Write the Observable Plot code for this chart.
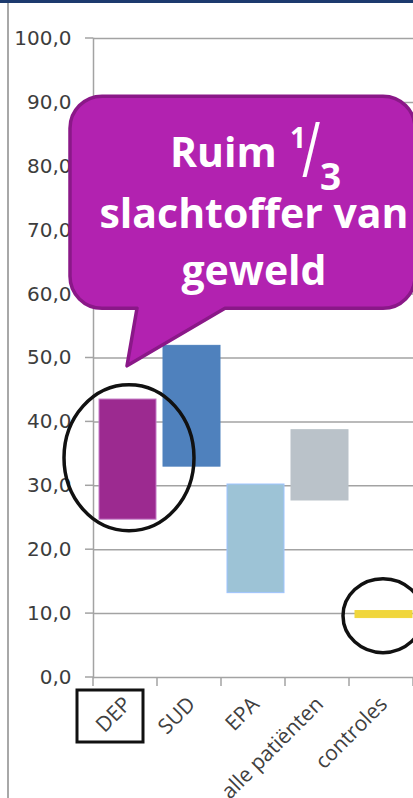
<!DOCTYPE html>
<html><head><meta charset="utf-8">
<script src="https://cdn.jsdelivr.net/npm/d3@7"></script>
<script src="https://cdn.jsdelivr.net/npm/@observablehq/plot@0.6"></script>
<style>
html,body{margin:0;padding:0;background:#fff;}
#chart{position:relative;width:413px;height:798px;overflow:hidden;background:#fff;}
#chart svg{position:absolute;left:0;top:0;}
#topbar{position:absolute;left:0;top:0;width:413px;height:3px;background:#1c3a6e;z-index:2;}
#leftline{position:absolute;left:7px;top:3px;width:2px;height:795px;background:#a8a8a8;z-index:2;}
</style></head><body>
<div id="chart"><div id="topbar"></div><div id="leftline"></div></div>
<script>
const categories = ["DEP", "SUD", "EPA", "alle patiënten", "controles"];
const lowValues = [24.7, 33.0, 13.2, 27.7, 9.3];
const highValues = [43.5, 51.9, 30.2, 38.7, 10.4];
const barColors = ["#9c2a90", "#4f81bd", "#9dc3d6", "#bac2c9", "#f0d63c"];
const barStrokes = ["#c47ac6", "#4f81bd", "#9ec4ff", "#bac2c9", "#f0d63c"];
const yTicks = [0, 10, 20, 30, 40, 50, 60, 70, 80, 90, 100];
const calloutWord = "Ruim";
const calloutNum = "1";
const calloutSlash = "/";
const calloutDen = "3";
const calloutLine2 = "slachtoffer van";
const calloutLine3 = "geweld";

const rows = categories.map((c, i) => ({cat: c, low: lowValues[i], high: highValues[i], fill: barColors[i], stroke: barStrokes[i]}));
const fmt = d => d.toFixed(1).replace(".", ",");

const plot = Plot.plot({
  width: 413, height: 798,
  marginTop: 38, marginBottom: 121, marginLeft: 93, marginRight: 0,
  style: {background: "transparent", overflow: "visible"},
  x: {domain: categories, padding: 0, axis: null},
  y: {domain: [0, 100], axis: null},
  color: {type: "identity"},
  marks: [
    Plot.ruleY(yTicks, {stroke: "#a3a3a3", strokeWidth: 1.5}),
    Plot.text(yTicks, {y: d => d, text: fmt, frameAnchor: "left", textAnchor: "end", dx: -22, fontSize: 20, fontFamily: "DejaVu Sans", fill: "#3d3d3d"}),
    Plot.frame({anchor: "left", stroke: "#a3a3a3", strokeWidth: 1.5}),
    Plot.barY(rows, {x: "cat", y1: "low", y2: "high", fill: "fill", stroke: "stroke", strokeWidth: 1, insetLeft: 6, insetRight: 1}),
    Plot.text(categories, {x: d => d, text: d => d, frameAnchor: "bottom", rotate: -45, textAnchor: "end", dx: 7, dy: 28, fontSize: 21, fontFamily: "Open Sans", fill: "#404040"})
  ]
});
document.getElementById("chart").appendChild(plot);

const svg = d3.select(plot);
const xs = plot.scale("x"), ys = plot.scale("y");
const bw = xs.bandwidth;
const X = c => xs.apply(c);
const Y = v => ys.apply(v);
const g = svg.append("g");

// y tick stubs
g.selectAll("line.yt").data(yTicks).join("line")
  .attr("x1", X(categories[0]) - 8).attr("x2", X(categories[0]))
  .attr("y1", d => Y(d)).attr("y2", d => Y(d))
  .attr("stroke", "#a3a3a3").attr("stroke-width", 1.5);

// band boundary ticks
const bounds = categories.map(c => X(c)).concat([X(categories[categories.length - 1]) + bw]);
g.selectAll("line.bt").data(bounds).join("line")
  .attr("x1", d => d).attr("x2", d => d)
  .attr("y1", Y(0)).attr("y2", Y(0) + 9)
  .attr("stroke", "#a3a3a3").attr("stroke-width", 1.5);

// box around DEP label
g.append("rect")
  .attr("x", X("DEP") - 16).attr("y", Y(0) + 13)
  .attr("width", 66).attr("height", 52)
  .attr("fill", "none").attr("stroke", "#111").attr("stroke-width", 3);

// ellipses
g.append("ellipse")
  .attr("cx", X("DEP") + bw / 2 + 4).attr("cy", Y(34.3))
  .attr("rx", 65).attr("ry", 73)
  .attr("fill", "none").attr("stroke", "#111").attr("stroke-width", 3.5);
g.append("ellipse")
  .attr("cx", X("controles") + bw / 2 + 2).attr("cy", Y(9.6))
  .attr("rx", 40).attr("ry", 37)
  .attr("fill", "none").attr("stroke", "#111").attr("stroke-width", 3.5);

// speech bubble
const L = X("DEP") - 23, R = 415, T = Y(90.9), B = Y(57.7), r = 32;
const tipX = X("DEP") + bw / 2 + 2, tipY = Y(48.7);
const tailL = X("DEP") + 44, tailR = X("EPA") + 4;
const p = d3.path();
p.moveTo(L + r, T);
p.lineTo(R - r, T);
p.arcTo(R, T, R, T + r, r);
p.lineTo(R, B - r);
p.arcTo(R, B, R - r, B, r);
p.lineTo(tailR, B);
p.lineTo(tipX, tipY);
p.lineTo(tailL, B);
p.lineTo(L + r, B);
p.arcTo(L, B, L, B - r, r);
p.lineTo(L, T + r);
p.arcTo(L, T, L + r, T, r);
p.closePath();
g.append("path").attr("d", p.toString())
  .attr("fill", "#b222b0").attr("stroke", "#8a1888").attr("stroke-width", 3.5).attr("stroke-linejoin", "round");

const cx = X("EPA") + bw / 2 + 1;
const font = "Open Sans";
const base1 = Y(79.8);
g.append("text").attr("x", cx - 84).attr("y", base1).attr("text-anchor", "start")
  .attr("fill", "#fff").attr("font-family", font).attr("font-weight", "bold").attr("font-size", 41)
  .text(calloutWord);
g.append("text").attr("x", cx + 36).attr("y", base1 - 19).attr("text-anchor", "start")
  .attr("fill", "#fff").attr("font-family", font).attr("font-weight", "bold").attr("font-size", 28)
  .text(calloutNum);
g.append("text").attr("transform", `translate(${cx + 48},${base1 + 10}) scale(1,1.55)`).attr("text-anchor", "start")
  .attr("fill", "#fff").attr("font-family", font).attr("font-weight", "normal").attr("font-size", 50)
  .text(calloutSlash);
g.append("text").attr("x", cx + 66).attr("y", base1 + 23).attr("text-anchor", "start")
  .attr("fill", "#fff").attr("font-family", font).attr("font-weight", "bold").attr("font-size", 37)
  .text(calloutDen);

g.append("text").attr("x", cx).attr("y", Y(70.3))
  .attr("text-anchor", "middle").attr("fill", "#fff")
  .attr("font-family", font).attr("font-weight", "bold").attr("font-size", 41)
  .text(calloutLine2);
g.append("text").attr("x", cx).attr("y", Y(61.3))
  .attr("text-anchor", "middle").attr("fill", "#fff")
  .attr("font-family", font).attr("font-weight", "bold").attr("font-size", 41)
  .text(calloutLine3);
</script>
</body></html>
